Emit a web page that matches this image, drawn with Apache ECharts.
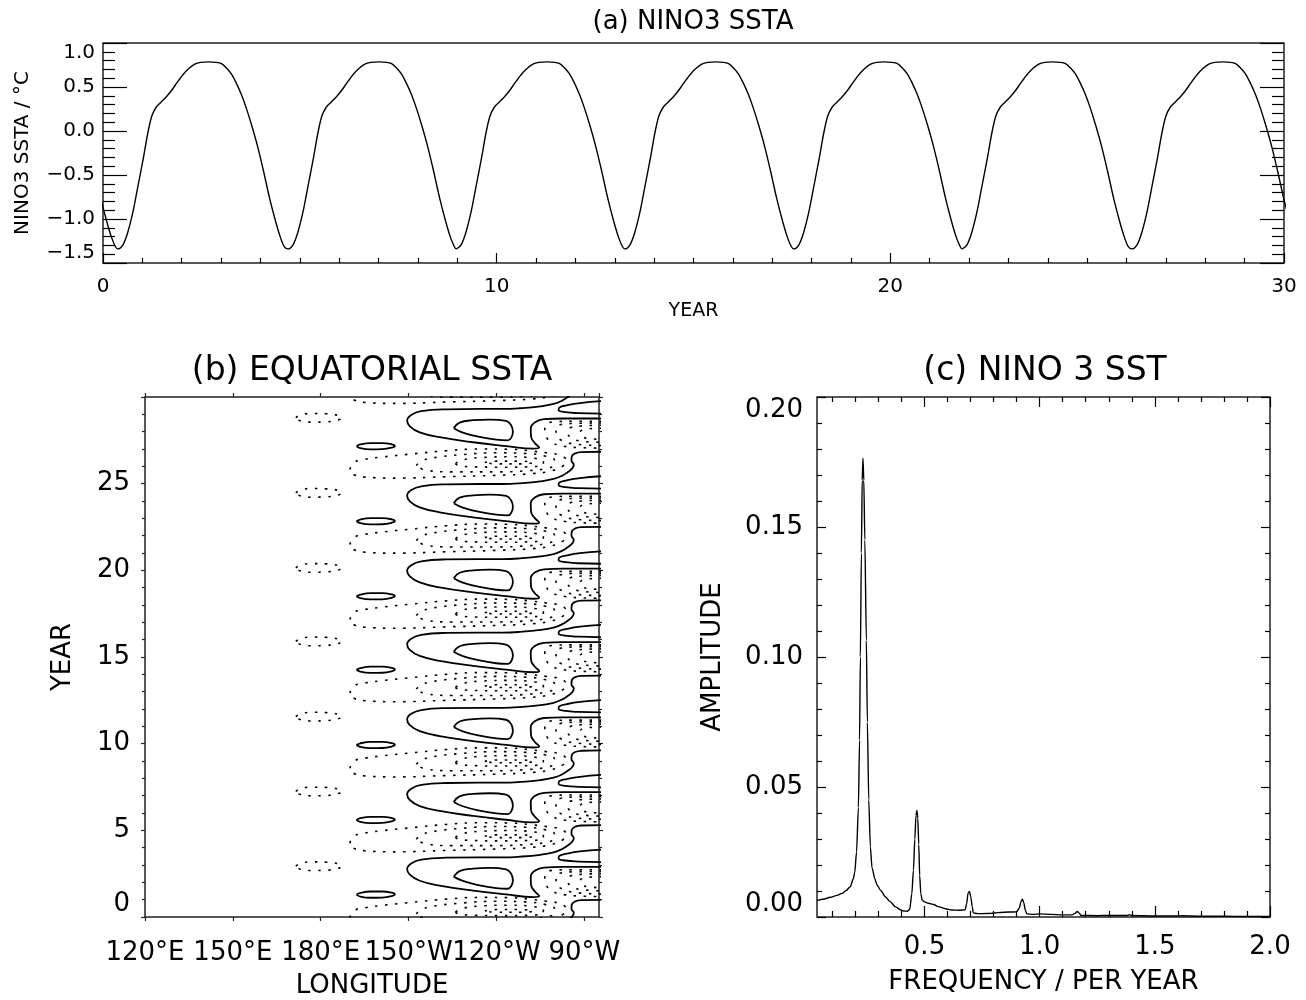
<!DOCTYPE html>
<html>
<head>
<meta charset="utf-8">
<script src="https://cdn.jsdelivr.net/npm/echarts@6/dist/echarts.min.js"></script>
<style>
html,body{margin:0;padding:0;background:#ffffff;}
#chart{width:1306px;height:1000px;}
</style>
</head>
<body>
<div id="chart"></div>
<script>
// ---------------- Panel (a): NINO3 SSTA time series ----------------
// one oscillation cycle, t = years after a minimum
const ninoCycleT = [0, 0.13, 0.25, 0.38, 0.51, 0.64, 0.76, 0.86, 0.97, 1.10, 1.23, 1.36, 1.50, 1.65, 1.80, 1.95, 2.10, 2.30, 2.50, 2.63, 2.75, 2.88, 3.00, 3.13, 3.26, 3.40, 3.55, 3.70, 3.85, 4.00, 4.12, 4.22];
const ninoCycleV = [-1.34, -1.29, -1.15, -0.92, -0.62, -0.32, -0.02, 0.17, 0.27, 0.33, 0.39, 0.46, 0.55, 0.64, 0.71, 0.76, 0.78, 0.785, 0.78, 0.765, 0.72, 0.65, 0.55, 0.42, 0.26, 0.06, -0.18, -0.46, -0.76, -1.02, -1.20, -1.31];
// years of the minima (first and last lie just outside the axis)
const ninoMinYears = [-3.91, 0.38, 4.70, 8.97, 13.26, 17.55, 21.82, 26.14, 30.43];
const ninoYTicks = [-1.5, -1.0, -0.5, 0.0, 0.5, 1.0];

// ---------------- Panel (b): equatorial SSTA contours ----------------
// years of the centre of each warm event (inner solid contour)
const cycleCenters = [-2.08, 2.23, 6.54, 10.86, 15.20, 19.44, 23.77, 28.10, 32.41];
// contour shapes: [longitude (deg east), year offset from the event centre]
const cInner = [[225.4,0.10],[227.4,0.42],[232.0,0.56],[237.7,0.60],[243.3,0.52],[245.0,0.27],[245.6,-0.12],[245.0,-0.46],[243.9,-0.60],[239.9,-0.56],[234.2,-0.40],[228.5,-0.15],[225.4,0.10]];
const cHook = [[276,0.66],[262.6,0.66],[256.2,0.62],[253.2,0.45],[251.7,0.10],[251.8,-0.38],[253.1,-0.76],[254.6,-1.02],[252.6,-1.08],[243.3,-0.93],[232.0,-0.71],[220.6,-0.42],[213.8,-0.14],[210.4,0.21],[209.5,0.54],[210.9,0.86],[214.3,1.08],[222.9,1.19],[234.2,1.21],[242.2,1.21],[248.0,1.25],[255.0,1.36],[259.5,1.50],[262.3,1.68],[264.2,1.88],[265.8,2.10],[266.4,2.32],[265.6,2.56],[265.7,2.80],[266.9,2.98],[269.0,3.05],[276,3.07]];
const cTongue = [[276,0.94],[268.0,0.97],[263.5,1.03],[261.2,1.15],[261.5,1.30],[264.0,1.42],[268.5,1.55],[276,1.66]];
const cSmallWarm = [[192.2,-0.94],[193.5,-0.84],[197.0,-0.76],[201.0,-0.76],[204.3,-0.83],[205.3,-0.92],[204.3,-1.02],[201.0,-1.11],[197.0,-1.12],[193.5,-1.05],[192.2,-0.94]];
const cWestCold = [[171.5,0.70],[173.0,0.86],[177.0,0.95],[182.0,0.93],[186.0,0.84],[187.2,0.72],[186.0,0.58],[182.0,0.47],[177.0,0.45],[173.0,0.53],[171.5,0.70]];
const cCold1 = [[189.9,-2.28],[191.6,-1.85],[195.0,-1.70],[200.1,-1.58],[211.4,-1.38],[222.8,-1.20],[234.2,-1.10],[245.5,-1.12],[252.0,-1.22],[257.0,-1.32],[261.0,-1.42],[263.3,-1.60],[263.8,-1.85],[262.5,-2.10],[259.0,-2.35],[252.3,-2.52],[239.8,-2.62],[222.8,-2.70],[205.8,-2.78],[195.0,-2.72],[191.0,-2.55],[189.9,-2.28]];
const cCold2 = [[212.6,-2.05],[214.5,-1.80],[218.0,-1.62],[228.5,-1.42],[240.0,-1.32],[250.0,-1.36],[256.5,-1.50],[259.8,-1.75],[259.8,-2.00],[257.0,-2.22],[250.0,-2.36],[239.8,-2.42],[225.0,-2.42],[216.0,-2.33],[212.6,-2.05]];
const cCold3 = [[226.0,-1.95],[228.0,-1.75],[234.0,-1.60],[245.0,-1.55],[252.0,-1.62],[256.0,-1.80],[256.0,-2.00],[252.0,-2.12],[242.0,-2.15],[231.0,-2.12],[227.0,-2.05],[226.0,-1.95]];
const cCold4 = [[236.0,-1.88],[240.0,-1.80],[248.0,-1.80],[252.5,-1.88],[249.0,-1.96],[240.0,-1.96],[236.0,-1.88]];
const cEast1 = [[276,0.50],[266.0,0.50],[259.0,0.46],[256.8,0.28],[256.5,0.00],[257.0,-0.40],[259.0,-0.74],[263.0,-0.94],[268.0,-1.02],[276,-1.05]];
const cEast2 = [[276,0.40],[267.0,0.38],[262.0,0.31],[260.3,0.10],[260.5,-0.30],[262.5,-0.62],[267.0,-0.82],[276,-0.90]];
const cEast3 = [[276,0.27],[269.0,0.23],[265.0,0.12],[264.3,-0.15],[265.5,-0.45],[269.0,-0.65],[276,-0.72]];
const cEast4 = [[276,0.10],[270.5,0.05],[268.5,-0.15],[269.5,-0.40],[272.0,-0.50],[276,-0.55]];
const lonTickLabels = {120:'120°E',150:'150°E',180:'180°E',210:'150°W',240:'120°W',270:'90°W'};

// ---------------- Panel (c): NINO 3 SST amplitude spectrum ----------------
const freq = [0.0333,0.06,0.092,0.12,0.142,0.16,0.178,0.19,0.197,0.205,0.213,0.218,0.2216,0.226,0.2295,0.2329,0.2365,0.241,0.2476,0.252,0.258,0.265,0.272,0.285,0.294,0.31,0.33,0.35,0.373,0.395,0.409,0.425,0.436,0.445,0.452,0.458,0.463,0.467,0.471,0.475,0.479,0.484,0.49,0.5,0.517,0.54,0.56,0.59,0.618,0.65,0.676,0.683,0.689,0.695,0.701,0.707,0.712,0.73,0.75,0.79,0.82,0.87,0.9,0.912,0.919,0.925,0.931,0.938,0.945,0.97,1.0,1.05,1.1,1.14,1.155,1.163,1.172,1.18,1.25,1.3,1.38,1.39,1.4,1.5,1.6,1.62,1.7,1.8,1.9,2.0];
const amp  = [0.0063,0.0068,0.0076,0.0083,0.0091,0.0102,0.0117,0.0145,0.017,0.025,0.042,0.068,0.1,0.14,0.168,0.1765,0.168,0.145,0.1065,0.075,0.045,0.027,0.019,0.0145,0.0123,0.0102,0.0078,0.006,0.004,0.0028,0.0023,0.0022,0.003,0.009,0.018,0.03,0.039,0.041,0.038,0.028,0.016,0.009,0.0065,0.0058,0.0053,0.0048,0.004,0.0032,0.0027,0.0026,0.0028,0.005,0.0092,0.0098,0.0078,0.004,0.0016,0.0013,0.0013,0.0014,0.0017,0.0019,0.002,0.0035,0.006,0.0068,0.0055,0.0025,0.0012,0.001,0.0012,0.001,0.0008,0.0008,0.0015,0.0021,0.0015,0.0006,0.0005,0.0006,0.0006,0.0009,0.0006,0.0004,0.0004,0.0005,0.0003,0.0003,0.0002,0.0002];
const freqMajorTicks = [0.5, 1.0, 1.5, 2.0];
const freqMinorTicks = [0.1,0.2,0.3,0.4,0.6,0.7,0.8,0.9,1.1,1.2,1.3,1.4,1.6,1.7,1.8,1.9];

// ---------------- build ----------------
const FONT = 'DejaVu Sans';
const ink = '#000000';

const ninoData = [];
for (let k = 0; k < ninoMinYears.length - 1; k++) {
  const m = ninoMinYears[k], next = ninoMinYears[k + 1];
  for (let i = 0; i < ninoCycleT.length; i++) {
    const yr = m + ninoCycleT[i];
    if (yr >= next - 0.02) break;
    ninoData.push([yr, ninoCycleV[i]]);
  }
}
const spectrumData = freq.map((f, i) => [f, amp[i]]);

const contourShapes = [
  {pts: cHook, dotted: false}, {pts: cInner, dotted: false}, {pts: cTongue, dotted: false},
  {pts: cSmallWarm, dotted: false}, {pts: cWestCold, dotted: true},
  {pts: cCold1, dotted: true}, {pts: cCold2, dotted: true}, {pts: cCold3, dotted: true}, {pts: cCold4, dotted: true},
  {pts: cEast1, dotted: true}, {pts: cEast2, dotted: true}, {pts: cEast3, dotted: true}, {pts: cEast4, dotted: true}
];

const series = [];
series.push({
  type: 'line', xAxisIndex: 0, yAxisIndex: 0, data: ninoData, showSymbol: false, smooth: 0.3,
  lineStyle: {color: ink, width: 1.4}, clip: true, silent: true, animation: false
});
cycleCenters.forEach(c => {
  contourShapes.forEach(s => {
    series.push({
      type: 'line', xAxisIndex: 1, yAxisIndex: 2,
      data: s.pts.map(p => [p[0], c + p[1]]),
      showSymbol: false, smooth: 0.45, clip: true, silent: true, animation: false,
      lineStyle: s.dotted ? {color: ink, width: 1.6, type: [2.5, 7.5]} : {color: ink, width: 1.8}
    });
  });
});
series.push({
  type: 'line', xAxisIndex: 3, yAxisIndex: 4, data: spectrumData, showSymbol: false,
  smooth: 0.25, smoothMonotone: 'x',
  lineStyle: {color: ink, width: 1.4}, clip: true, silent: true, animation: false
});

const lbl = (size, extra) => Object.assign({color: ink, fontFamily: FONT, fontSize: size}, extra || {});
const nameStyle = (size) => ({color: ink, fontFamily: FONT, fontSize: size});
const noLine = {show: false, onZero: false};

const gridBase = {show: true, borderColor: '#222', borderWidth: 1.5, backgroundColor: 'transparent', containLabel: false, outerBoundsMode: 'none'};

const option = {
  backgroundColor: '#ffffff',
  animation: false,
  title: [
    {text: '(a) NINO3 SSTA', left: 693, top: 9, textAlign: 'center', padding: 0,
     textStyle: {color: ink, fontFamily: FONT, fontSize: 26, fontWeight: 'normal'}},
    {text: '(b) EQUATORIAL SSTA', left: 372, top: 355, textAlign: 'center', padding: 0,
     textStyle: {color: ink, fontFamily: FONT, fontSize: 33, fontWeight: 'normal'}},
    {text: '(c) NINO 3 SST', left: 1045, top: 355, textAlign: 'center', padding: 0,
     textStyle: {color: ink, fontFamily: FONT, fontSize: 33, fontWeight: 'normal'}}
  ],
  grid: [
    Object.assign({left: 103, top: 43, width: 1181, height: 220}, gridBase),
    Object.assign({left: 145, top: 397, width: 454, height: 520}, gridBase),
    Object.assign({left: 817, top: 397, width: 453, height: 520}, gridBase)
  ],
  xAxis: [
    { // 0: (a) year
      type: 'value', gridIndex: 0, min: 0, max: 30, interval: 10, position: 'bottom',
      name: 'YEAR', nameLocation: 'middle', nameGap: 39, nameTextStyle: nameStyle(19),
      axisLine: noLine, splitLine: {show: false},
      axisTick: {show: true, inside: true, length: 10, lineStyle: {color: ink, width: 1.2}},
      minorTick: {show: true, splitNumber: 10, length: 5, lineStyle: {color: ink, width: 1.2}},
      axisLabel: lbl(20, {margin: 14, formatter: v => String(v)})
    },
    { // 1: (b) longitude
      type: 'value', gridIndex: 1, min: 120, max: 275, interval: 30, position: 'bottom',
      name: 'LONGITUDE', nameLocation: 'middle', nameGap: 56, nameTextStyle: nameStyle(26),
      axisLine: noLine, splitLine: {show: false},
      axisTick: {show: true, inside: false, length: 4, lineStyle: {color: '#222', width: 1.2}},
      axisLabel: lbl(26, {margin: 23, showMaxLabel: false, formatter: v => lonTickLabels[v] || ''})
    },
    { // 2: (b) top ticks
      type: 'value', gridIndex: 1, min: 120, max: 275, interval: 30, position: 'top',
      axisLine: noLine, splitLine: {show: false}, axisLabel: {show: false},
      axisTick: {show: true, inside: false, length: 4, lineStyle: {color: '#222', width: 1.2}}
    },
    { // 3: (c) frequency
      type: 'value', gridIndex: 2, min: 0.0333, max: 2.0, position: 'bottom',
      name: 'FREQUENCY / PER YEAR', nameLocation: 'middle', nameGap: 52, nameTextStyle: nameStyle(26),
      axisLine: noLine, splitLine: {show: false},
      axisTick: {show: true, inside: true, length: 11, customValues: freqMajorTicks, lineStyle: {color: ink, width: 1.2}},
      axisLabel: lbl(26, {margin: 17, customValues: freqMajorTicks, formatter: v => v.toFixed(1)})
    },
    { // 4: (c) top major ticks
      type: 'value', gridIndex: 2, min: 0.0333, max: 2.0, position: 'top',
      axisLine: noLine, splitLine: {show: false}, axisLabel: {show: false},
      axisTick: {show: true, inside: true, length: 10, customValues: freqMajorTicks, lineStyle: {color: ink, width: 1.2}}
    },
    { // 5: (c) bottom minor ticks
      type: 'value', gridIndex: 2, min: 0.0333, max: 2.0, position: 'bottom',
      axisLine: noLine, splitLine: {show: false}, axisLabel: {show: false},
      axisTick: {show: true, inside: true, length: 6, customValues: freqMinorTicks, lineStyle: {color: ink, width: 1.2}}
    },
    { // 6: (c) top minor ticks
      type: 'value', gridIndex: 2, min: 0.0333, max: 2.0, position: 'top',
      axisLine: noLine, splitLine: {show: false}, axisLabel: {show: false},
      axisTick: {show: true, inside: true, length: 5, customValues: freqMinorTicks, lineStyle: {color: ink, width: 1.2}}
    }
  ],
  yAxis: [
    { // 0: (a) left
      type: 'value', gridIndex: 0, min: -1.5, max: 1.0, interval: 0.5, position: 'left',
      name: 'NINO3 SSTA / °C', nameLocation: 'middle', nameGap: 70, nameRotate: 90, nameTextStyle: nameStyle(20),
      axisLine: noLine, splitLine: {show: false},
      axisTick: {show: true, inside: true, length: 24, lineStyle: {color: ink, width: 1.2}},
      minorTick: {show: true, splitNumber: 5, length: 12, lineStyle: {color: ink, width: 1.2}},
      axisLabel: lbl(20, {margin: 8, verticalAlignMinLabel: 'bottom', verticalAlignMaxLabel: 'top',
        formatter: v => (v < 0 ? '\u2212' : '') + Math.abs(v).toFixed(1)})
    },
    { // 1: (a) right ticks
      type: 'value', gridIndex: 0, min: -1.5, max: 1.0, interval: 0.5, position: 'right',
      axisLine: noLine, splitLine: {show: false}, axisLabel: {show: false},
      axisTick: {show: true, inside: true, length: 24, lineStyle: {color: ink, width: 1.2}},
      minorTick: {show: true, splitNumber: 5, length: 12, lineStyle: {color: ink, width: 1.2}}
    },
    { // 2: (b) year
      type: 'value', gridIndex: 1, min: 0, max: 30, interval: 5, position: 'left',
      name: 'YEAR', nameLocation: 'middle', nameGap: 69, nameRotate: 90, nameTextStyle: nameStyle(26),
      axisLine: noLine, splitLine: {show: false},
      axisTick: {show: true, inside: false, length: 4, lineStyle: {color: '#222', width: 1.2}},
      minorTick: {show: true, splitNumber: 5, length: 3, lineStyle: {color: '#222', width: 1.2}},
      axisLabel: lbl(26, {margin: 15, showMaxLabel: false, verticalAlignMinLabel: 'bottom', formatter: v => String(v)})
    },
    { // 3: (b) right ticks
      type: 'value', gridIndex: 1, min: 0, max: 30, interval: 5, position: 'right',
      axisLine: noLine, splitLine: {show: false}, axisLabel: {show: false},
      axisTick: {show: true, inside: false, length: 4, lineStyle: {color: '#222', width: 1.2}},
      minorTick: {show: true, splitNumber: 5, length: 3, lineStyle: {color: '#222', width: 1.2}}
    },
    { // 4: (c) amplitude
      type: 'value', gridIndex: 2, min: 0, max: 0.2, interval: 0.05, position: 'left',
      name: 'AMPLITUDE', nameLocation: 'middle', nameGap: 91, nameRotate: 90, nameTextStyle: nameStyle(26),
      axisLine: noLine, splitLine: {show: false},
      axisTick: {show: true, inside: true, length: 9, lineStyle: {color: ink, width: 1.2}},
      minorTick: {show: true, splitNumber: 5, length: 5, lineStyle: {color: ink, width: 1.2}},
      axisLabel: lbl(26, {margin: 14, verticalAlignMinLabel: 'bottom', verticalAlignMaxLabel: 'top',
        formatter: v => v.toFixed(2)})
    },
    { // 5: (c) right ticks
      type: 'value', gridIndex: 2, min: 0, max: 0.2, interval: 0.05, position: 'right',
      axisLine: noLine, splitLine: {show: false}, axisLabel: {show: false},
      axisTick: {show: true, inside: true, length: 9, lineStyle: {color: ink, width: 1.2}},
      minorTick: {show: true, splitNumber: 5, length: 5, lineStyle: {color: ink, width: 1.2}}
    }
  ],
  series: series
};

const chart = echarts.init(document.getElementById('chart'), null, {renderer: 'canvas', width: 1306, height: 1000});
chart.setOption(option);
</script>
</body>
</html>
